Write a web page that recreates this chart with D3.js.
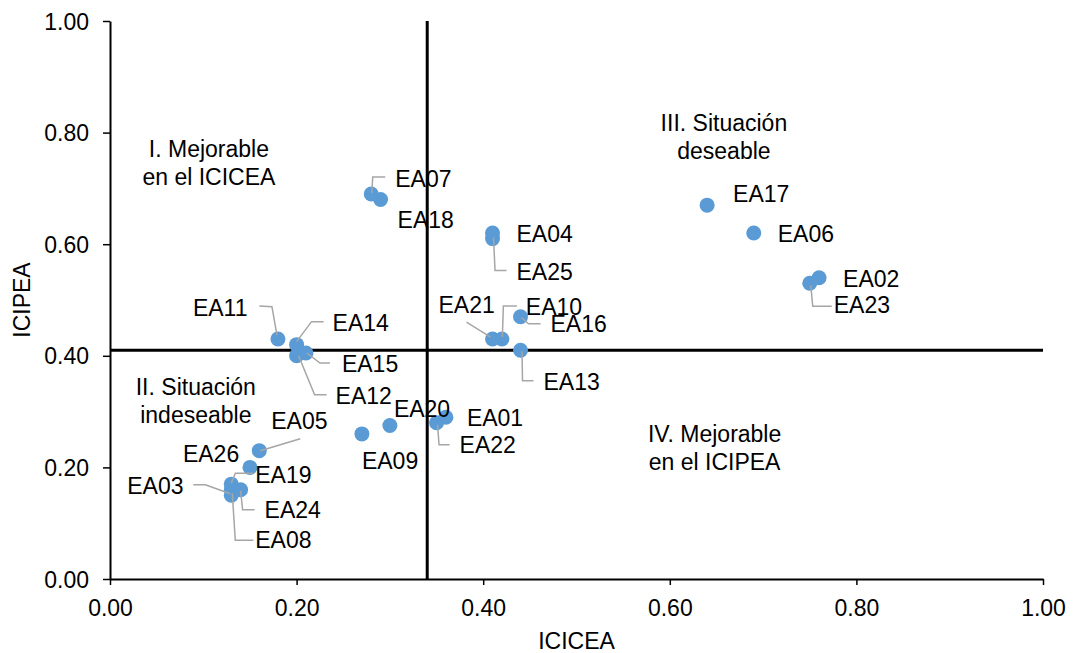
<!DOCTYPE html>
<html>
<head>
<meta charset="utf-8">
<script src="https://cdn.jsdelivr.net/npm/d3@7"></script>
<style>
  body { margin: 0; background: #fff; }
  text { font-family: Arial, "Liberation Sans", sans-serif; fill: #000; }
</style>
</head>
<body>
<div id="chart"></div>
<script>
// data
var names  = ["EA01","EA02","EA03","EA04","EA05","EA06","EA07","EA08","EA09","EA10","EA11","EA12","EA13",
              "EA14","EA15","EA16","EA17","EA18","EA19","EA20","EA21","EA22","EA23","EA24","EA25","EA26"];
var icicea = [0.36, 0.76, 0.13, 0.41, 0.16, 0.69, 0.28, 0.13, 0.27, 0.42, 0.18, 0.20, 0.44,
              0.20, 0.21, 0.44, 0.64, 0.29, 0.13, 0.30, 0.41, 0.35, 0.75, 0.14, 0.41, 0.15];
var icipea = [0.29, 0.54, 0.16, 0.62, 0.23, 0.62, 0.69, 0.15, 0.26, 0.43, 0.43, 0.40, 0.41,
              0.42, 0.405, 0.47, 0.67, 0.68, 0.17, 0.275, 0.43, 0.28, 0.53, 0.16, 0.61, 0.20];

var xTicks = [0, 0.2, 0.4, 0.6, 0.8, 1.0];
var yTicks = [0, 0.2, 0.4, 0.6, 0.8, 1.0];

// quadrant split values
var splitX = 0.34;
var splitY = 0.41;

var quadrantText = [
  ["I. Mejorable", "en el ICICEA"],
  ["II. Situación", "indeseable"],
  ["III. Situación", "deseable"],
  ["IV. Mejorable", "en el ICIPEA"]
];

// layout: where the quadrant captions sit (data units, first baseline)
var quadrantAt = [[0.106, 0.756], [0.092, 0.330], [0.658, 0.803], [0.648, 0.246]];

// layout: label offsets from the dot (px) and leader lines (px, relative to dot)
var labelPos = {
  EA01: {dx: 21, dy: 9},
  EA02: {dx: 24, dy: 9},
  EA03: {dx: -104, dy: 4, lead: [[-38,-5],[-26,-5],[-1,4]]},
  EA04: {dx: 24, dy: 9},
  EA05: {dx: 12, dy: -22, lead: [[41,-12],[1,0]]},
  EA06: {dx: 24, dy: 9},
  EA07: {dx: 24, dy: -7, lead: [[14,-17],[1.5,-17],[0.5,-1]]},
  EA08: {dx: 24, dy: 53, lead: [[22,45],[4,45],[1,-2]]},
  EA09: {dx: 0, dy: 35},
  EA10: {dx: 24, dy: -24, lead: [[15,-33],[1.5,-33],[0.5,-2]]},
  EA11: {dx: -85, dy: -23, lead: [[-18.6,-33],[-6,-32.4],[-1,-4]]},
  EA12: {dx: 39, dy: 48, lead: [[30,39],[18,39],[2,0]]},
  EA13: {dx: 23, dy: 40, lead: [[13,30.5],[2,30.5],[1.5,1]]},
  EA14: {dx: 36, dy: -14, lead: [[27,-23],[15,-23],[0,-3]]},
  EA15: {dx: 36, dy: 19, lead: [[24,10],[14,10],[1,0]]},
  EA16: {dx: 30, dy: 15, lead: [[20,7],[8,7],[1,1]]},
  EA17: {dx: 26, dy: -3},
  EA18: {dx: 17, dy: 28},
  EA19: {dx: 24, dy: -1, lead: [[22,-11],[4,-11],[0,-1]]},
  EA20: {dx: 4, dy: -9},
  EA21: {dx: -54, dy: -26, lead: [[-26,-17],[-2,-2]]},
  EA22: {dx: 23, dy: 30, lead: [[13,22],[2.5,22],[1,2]]},
  EA23: {dx: 24, dy: 30, lead: [[22,23],[3,23],[1,2]]},
  EA24: {dx: 24, dy: 28, lead: [[14,20],[2,20],[0,1]]},
  EA25: {dx: 24, dy: 41, lead: [[14,32],[2.5,32],[1,-1]]},
  EA26: {dx: -67, dy: -5}
};

var W = 1073, H = 653;
var margin = {top: 21, right: 30, bottom: 74, left: 110},
    width = W - margin.left - margin.right,
    height = H - margin.top - margin.bottom;

var fs = 23;

var svg = d3.select("#chart")
  .append("svg")
  .attr("width", W)
  .attr("height", H);

var g = svg.append("g")
  .attr("transform", "translate(" + margin.left + "," + margin.top + ")");

var x = d3.scaleLinear().domain([0, 1]).range([0, width]);
var y = d3.scaleLinear().domain([0, 1]).range([height, 0]);

var fmt = d3.format(".2f");

// X axis
var xAxis = g.append("g")
  .attr("transform", "translate(0," + height + ")")
  .call(d3.axisBottom(x).tickValues(xTicks).tickFormat(fmt).tickSize(6).tickSizeOuter(0));
xAxis.select(".domain").attr("stroke", "#000").attr("stroke-width", 2);
xAxis.selectAll(".tick line").attr("stroke", "#000").attr("stroke-width", 1.5);
xAxis.selectAll(".tick text")
  .attr("font-size", fs).attr("font-family", "Arial, 'Liberation Sans', sans-serif")
  .attr("fill", "#000").attr("y", 0).attr("dy", 0)
  .attr("transform", "translate(0,37)");

// Y axis
var yAxis = g.append("g")
  .call(d3.axisLeft(y).tickValues(yTicks).tickFormat(fmt).tickSize(7).tickSizeOuter(0));
yAxis.select(".domain").attr("stroke", "#000").attr("stroke-width", 2);
yAxis.selectAll(".tick line").attr("stroke", "#000").attr("stroke-width", 1.5);
yAxis.selectAll(".tick text")
  .attr("font-size", fs).attr("font-family", "Arial, 'Liberation Sans', sans-serif")
  .attr("fill", "#000").attr("x", -21).attr("dy", 0)
  .attr("transform", "translate(0,8)");

// axis titles
g.append("text")
  .attr("x", width / 2)
  .attr("y", height + 70)
  .attr("text-anchor", "middle")
  .attr("font-size", fs)
  .text("ICICEA");

g.append("text")
  .attr("transform", "translate(" + (-80) + "," + (height / 2) + ") rotate(-90)")
  .attr("text-anchor", "middle")
  .attr("font-size", fs)
  .text("ICIPEA");

// quadrant split lines
g.append("line")
  .attr("x1", x(splitX)).attr("x2", x(splitX))
  .attr("y1", y(1)).attr("y2", y(0))
  .attr("stroke", "#000").attr("stroke-width", 3);
g.append("line")
  .attr("x1", x(0)).attr("x2", x(1))
  .attr("y1", y(splitY)).attr("y2", y(splitY))
  .attr("stroke", "#000").attr("stroke-width", 3);

// quadrant captions
quadrantText.forEach(function(lines, i) {
  var t = g.append("text")
    .attr("text-anchor", "middle")
    .attr("font-size", fs)
    .attr("x", x(quadrantAt[i][0]))
    .attr("y", y(quadrantAt[i][1]));
  lines.forEach(function(l, k) {
    t.append("tspan")
      .attr("x", x(quadrantAt[i][0]))
      .attr("dy", k == 0 ? 0 : 28)
      .text(l);
  });
});

var points = names.map(function(n, i) {
  return {name: n, x: icicea[i], y: icipea[i]};
});

// dots
g.selectAll("circle.pt")
  .data(points)
  .enter()
  .append("circle")
  .attr("class", "pt")
  .attr("cx", function(d) { return x(d.x); })
  .attr("cy", function(d) { return y(d.y); })
  .attr("r", 7.5)
  .attr("fill", "#5b9bd5");

// leader lines (on top of dots, like excel)
var line = d3.line();
g.selectAll("path.lead")
  .data(points.filter(function(d) { return labelPos[d.name].lead; }))
  .enter()
  .append("path")
  .attr("class", "lead")
  .attr("fill", "none")
  .attr("stroke", "#a6a6a6")
  .attr("stroke-width", 1.5)
  .attr("d", function(d) {
    var cx = x(d.x), cy = y(d.y);
    return line(labelPos[d.name].lead.map(function(p) { return [cx + p[0], cy + p[1]]; }));
  });

// data labels
g.selectAll("text.lbl")
  .data(points)
  .enter()
  .append("text")
  .attr("class", "lbl")
  .attr("font-size", fs)
  .attr("x", function(d) { return x(d.x) + labelPos[d.name].dx; })
  .attr("y", function(d) { return y(d.y) + labelPos[d.name].dy; })
  .text(function(d) { return d.name; });
</script>
</body>
</html>
